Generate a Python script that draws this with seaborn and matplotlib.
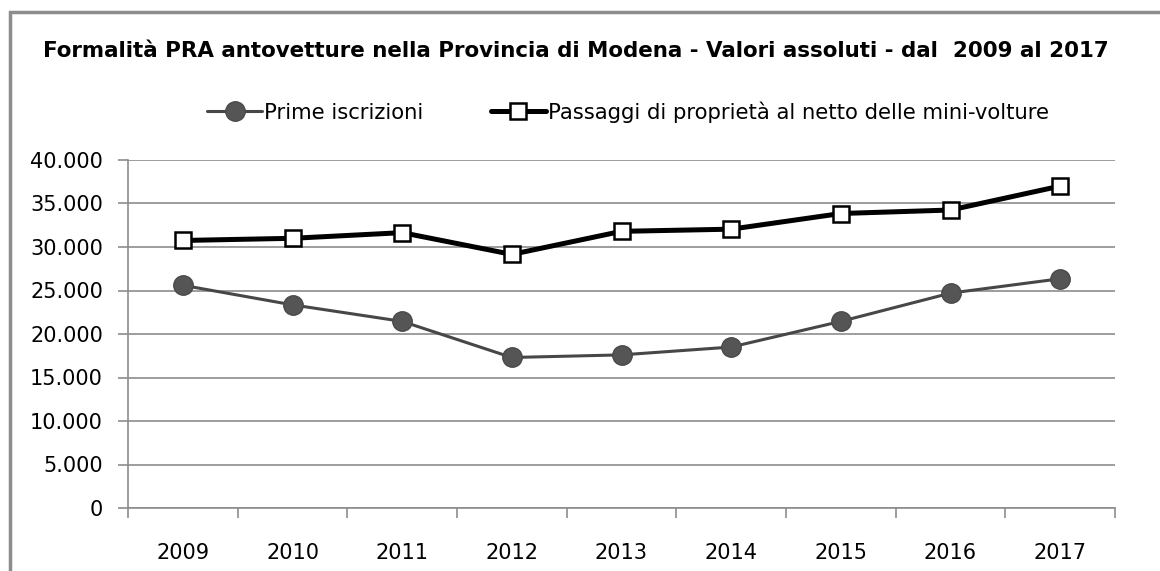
import pandas as pd
import seaborn as sns
import matplotlib.pyplot as plt
from matplotlib.ticker import FuncFormatter, FixedLocator
from matplotlib.patches import Rectangle

# Dati
anni = ['2009', '2010', '2011', '2012', '2013', '2014', '2015', '2016', '2017']
prime_iscrizioni = [25600, 23350, 21450, 17300, 17600, 18500, 21450, 24700, 26350]
passaggi = [30750, 31000, 31650, 29150, 31800, 32050, 33850, 34250, 37000]

df = pd.DataFrame({'anno': anni, 'prime': prime_iscrizioni, 'passaggi': passaggi})

sns.set_style("white")
plt.rcParams['font.family'] = ['DejaVu Sans']
plt.rcParams['text.color'] = 'black'
plt.rcParams['xtick.color'] = 'black'
plt.rcParams['ytick.color'] = 'black'

W, H = 1160, 571
fig = plt.figure(figsize=(W / 100, H / 100), dpi=100)
ax = fig.add_axes([128 / W, 1 - 508 / H, (1115 - 128) / W, (508 - 160) / H])

# bordo esterno (solo lato sinistro e superiore visibili)
fig.patches.append(Rectangle((10 / W, -0.1), 1.2, 1.1 - 12 / H, transform=fig.transFigure,
                             fill=False, edgecolor='#8c8c8c', linewidth=2.5))

sns.lineplot(data=df, x='anno', y='prime', ax=ax, color='#474747', linewidth=2.2,
             marker='o', markersize=14, markerfacecolor='#555555', markeredgecolor='#4a4a4a',
             markeredgewidth=1, label='Prime iscrizioni', sort=False)
sns.lineplot(data=df, x='anno', y='passaggi', ax=ax, color='black', linewidth=3.6,
             marker='s', markersize=11, markerfacecolor='white', markeredgecolor='black',
             markeredgewidth=1.8, label='Passaggi di proprietà al netto delle mini-volture', sort=False)

ax.set_xlim(-0.5, len(anni) - 0.5)
ax.set_ylim(0, 40000)
ax.set_yticks(range(0, 40001, 5000))
ax.yaxis.set_major_formatter(FuncFormatter(lambda v, p: f"{int(v):,}".replace(',', '.')))
ax.grid(axis='y', color='#8c8c8c', linewidth=1.2)
ax.set_axisbelow(True)
for s in ['top', 'right']:
    ax.spines[s].set_visible(False)
for s in ['bottom', 'left']:
    ax.spines[s].set_color('#8c8c8c')
    ax.spines[s].set_linewidth(1.2)

ax.xaxis.set_minor_locator(FixedLocator([i - 0.5 for i in range(len(anni) + 1)]))
ax.tick_params(axis='x', which='major', length=0, pad=25, labelsize=15, labelcolor='black')
ax.tick_params(axis='x', which='minor', length=7, width=1.2, color='#8c8c8c', direction='out')
ax.tick_params(axis='y', which='major', length=7, width=1.2, color='#8c8c8c', labelsize=15, pad=11,
               labelcolor='black')
ax.tick_params(left=True, bottom=True, which='both')
ax.set_xlabel('')
ax.set_ylabel('')

fig.text(576 / W, 1 - 51 / H, 'Formalità PRA antovetture nella Provincia di Modena - Valori assoluti - dal  2009 al 2017',
         ha='center', va='center', fontsize=15.4, fontweight='bold', color='black')

leg = ax.legend(loc='center', bbox_to_anchor=(628 / W, 1 - 112 / H), bbox_transform=fig.transFigure,
                ncol=2, frameon=False, fontsize=15.2, handlelength=2.6, handletextpad=0.1,
                columnspacing=3.2, borderpad=0, borderaxespad=0)
for t in leg.get_texts():
    t.set_color('black')

fig.savefig('out.png', dpi=100)
